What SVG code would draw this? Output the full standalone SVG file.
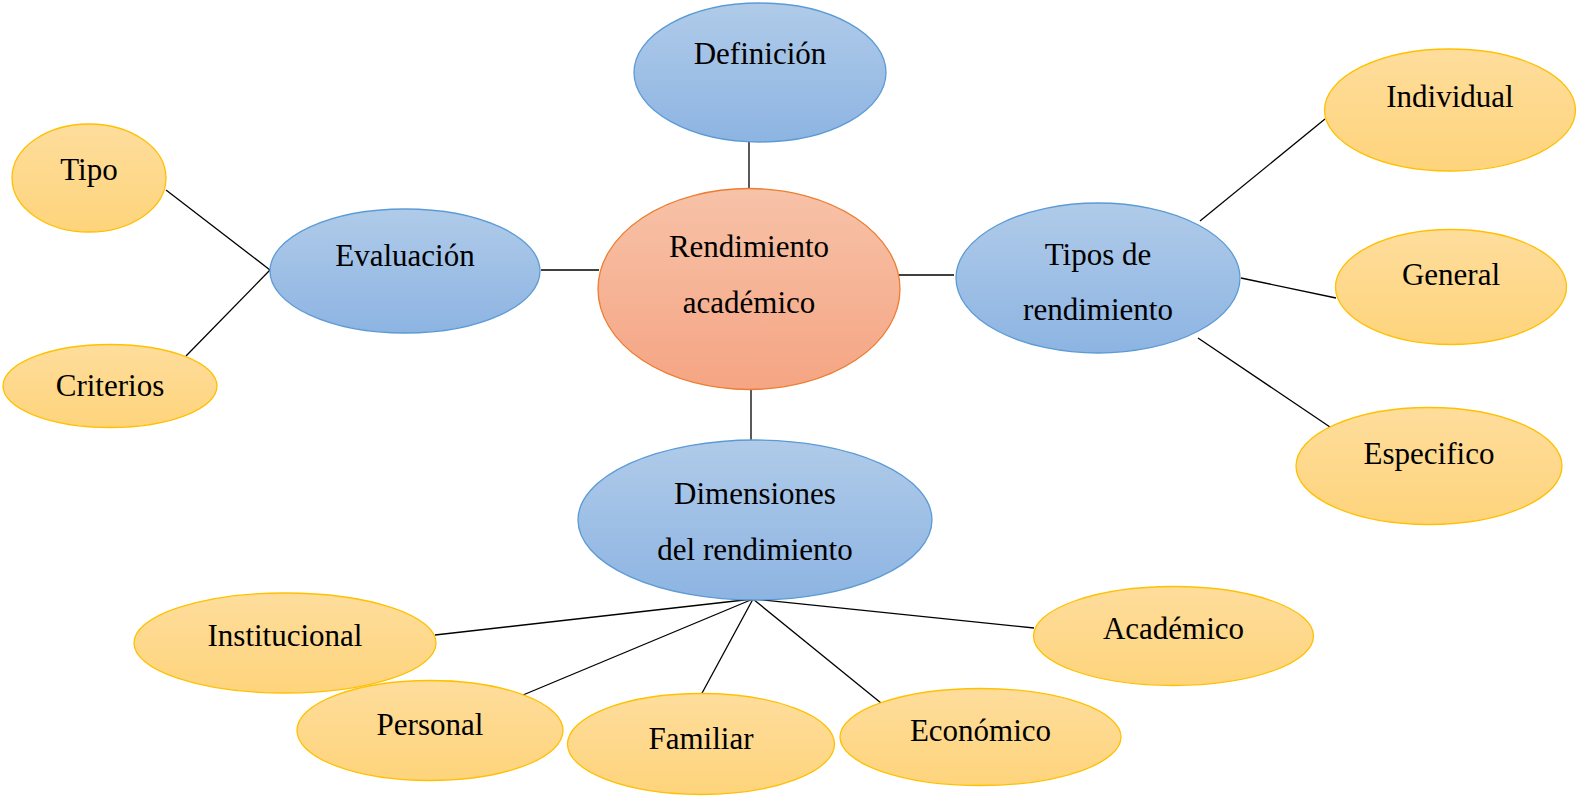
<svg xmlns="http://www.w3.org/2000/svg" width="1581" height="797" viewBox="0 0 1581 797">
<defs>
<linearGradient id="gBlue" x1="0" y1="0" x2="0" y2="1">
<stop offset="0" stop-color="#b0cbe9"/><stop offset="1" stop-color="#8db4e2"/>
</linearGradient>
<linearGradient id="gYel" x1="0" y1="0" x2="0" y2="1">
<stop offset="0" stop-color="#fedd9c"/><stop offset="1" stop-color="#fed47c"/>
</linearGradient>
<linearGradient id="gOr" x1="0" y1="0" x2="0" y2="1">
<stop offset="0" stop-color="#f7c2a8"/><stop offset="1" stop-color="#f5a583"/>
</linearGradient>
</defs>
<style>
.blue{fill:url(#gBlue);stroke:#5b9bd5;stroke-width:1.3}
.yel{fill:url(#gYel);stroke:#ffc000;stroke-width:1.3}
.or{fill:url(#gOr);stroke:#ed7d31;stroke-width:1.3}
text{font-family:"Liberation Serif","Times New Roman",serif;font-size:31px;fill:#000;text-anchor:middle}
.c line{stroke:#000;stroke-width:1.3}
</style>
<rect width="1581" height="797" fill="#fff"/>
<g class="c" id="connectors">
<line x1="749" y1="142" x2="749" y2="190"/>
<line x1="751" y1="390" x2="751" y2="440"/>
<line x1="541" y1="270" x2="599" y2="270"/>
<line x1="896" y1="275" x2="954" y2="275"/>
<line x1="166" y1="190" x2="270" y2="270"/>
<line x1="186" y1="356" x2="270" y2="270"/>
<line x1="1200" y1="221" x2="1325" y2="119"/>
<line x1="1241" y1="278" x2="1336" y2="298"/>
<line x1="1198" y1="338" x2="1330" y2="427"/>
<line x1="753" y1="599" x2="435" y2="635"/>
<line x1="753" y1="599" x2="523" y2="695"/>
<line x1="753" y1="599" x2="701" y2="695"/>
<line x1="753" y1="599" x2="881" y2="703"/>
<line x1="753" y1="599" x2="1034" y2="628"/>
</g>
<g id="definicion"><ellipse class="blue" cx="760" cy="72.5" rx="126" ry="69.5"/><text x="760" y="64">Definición</text></g>
<g id="rendimiento"><ellipse class="or" cx="749" cy="289" rx="151" ry="100.5"/><text x="749" y="257">Rendimiento</text><text x="749" y="313">académico</text></g>
<g id="evaluacion"><ellipse class="blue" cx="405" cy="271" rx="135" ry="62"/><text x="405" y="266">Evaluación</text></g>
<g id="tipo"><ellipse class="yel" cx="89" cy="178" rx="77" ry="54"/><text x="89" y="180">Tipo</text></g>
<g id="criterios"><ellipse class="yel" cx="110" cy="386" rx="107" ry="41.5"/><text x="110" y="396">Criterios</text></g>
<g id="tipos"><ellipse class="blue" cx="1098" cy="278" rx="142" ry="75"/><text x="1098" y="265">Tipos de</text><text x="1098" y="320">rendimiento</text></g>
<g id="individual"><ellipse class="yel" cx="1450" cy="110" rx="125.5" ry="61"/><text x="1450" y="107">Individual</text></g>
<g id="general"><ellipse class="yel" cx="1451" cy="287" rx="115.5" ry="57.5"/><text x="1451" y="285">General</text></g>
<g id="especifico"><ellipse class="yel" cx="1429" cy="466" rx="133" ry="58.5"/><text x="1429" y="464">Especifico</text></g>
<g id="dimensiones"><ellipse class="blue" cx="755" cy="520" rx="177" ry="80"/><text x="755" y="504">Dimensiones</text><text x="755" y="560">del rendimiento</text></g>
<g id="institucional"><ellipse class="yel" cx="285" cy="643" rx="151" ry="50"/><text x="285" y="646">Institucional</text></g>
<g id="personal"><ellipse class="yel" cx="430" cy="730.5" rx="133" ry="50"/><text x="430" y="735">Personal</text></g>
<g id="familiar"><ellipse class="yel" cx="701" cy="744" rx="133.5" ry="50.5"/><text x="701" y="749">Familiar</text></g>
<g id="economico"><ellipse class="yel" cx="980.5" cy="737" rx="140.5" ry="48.5"/><text x="980.5" y="741">Económico</text></g>
<g id="academico"><ellipse class="yel" cx="1173.5" cy="636" rx="140" ry="49.5"/><text x="1173.5" y="639">Académico</text></g>
</svg>
